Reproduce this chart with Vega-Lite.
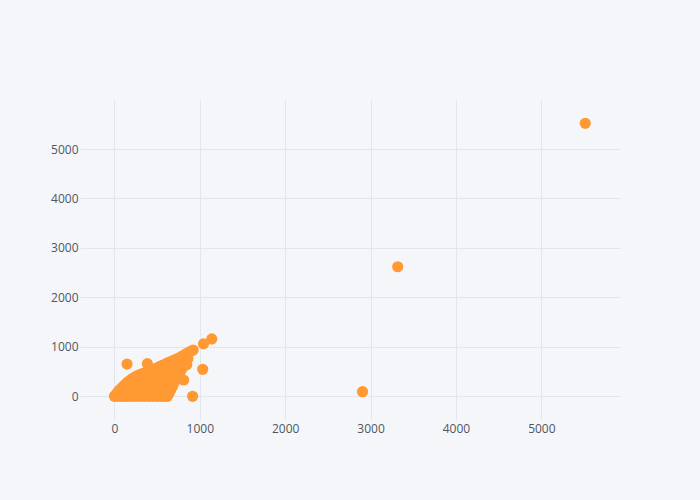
{
  "$schema": "https://vega.github.io/schema/vega-lite/v6.json",
  "autosize": {"type": "none"},
  "width": 540,
  "height": 320,
  "padding": {"left": 80, "top": 100, "right": 80, "bottom": 80},
  "background": "#F5F6F9",
  "config": {
    "view": {"stroke": null, "fill": "#F5F6F9"},
    "axis": {
      "domain": false,
      "ticks": false,
      "grid": true,
      "gridColor": "#E1E5ED",
      "gridWidth": 1,
      "labelFont": "Open Sans",
      "labelFontSize": 12,
      "labelColor": "#4D5663",
      "title": null
    }
  },
  "data": {
    "values": [
      {"x": 0, "y": 0}, {"x": 20, "y": 40}, {"x": 40, "y": 90}, {"x": 60, "y": 130}, {"x": 90, "y": 180},
      {"x": 120, "y": 230}, {"x": 150, "y": 280}, {"x": 180, "y": 320}, {"x": 210, "y": 360}, {"x": 240, "y": 390},
      {"x": 270, "y": 420}, {"x": 300, "y": 440}, {"x": 330, "y": 460}, {"x": 360, "y": 480}, {"x": 390, "y": 500},
      {"x": 420, "y": 520}, {"x": 450, "y": 540}, {"x": 480, "y": 560}, {"x": 510, "y": 585}, {"x": 540, "y": 610},
      {"x": 570, "y": 630}, {"x": 600, "y": 655}, {"x": 630, "y": 680}, {"x": 660, "y": 700}, {"x": 690, "y": 725},
      {"x": 720, "y": 745}, {"x": 750, "y": 770}, {"x": 780, "y": 800}, {"x": 810, "y": 830}, {"x": 840, "y": 860},
      {"x": 870, "y": 890}, {"x": 900, "y": 915}, {"x": 922, "y": 936},
      {"x": 30, "y": 0}, {"x": 70, "y": 0}, {"x": 110, "y": 0}, {"x": 150, "y": 0}, {"x": 200, "y": 0},
      {"x": 250, "y": 0}, {"x": 300, "y": 0}, {"x": 350, "y": 0}, {"x": 400, "y": 0}, {"x": 450, "y": 0},
      {"x": 500, "y": 0}, {"x": 540, "y": 0}, {"x": 580, "y": 0}, {"x": 620, "y": 0},
      {"x": 40, "y": 60}, {"x": 100, "y": 60}, {"x": 170, "y": 60}, {"x": 240, "y": 60}, {"x": 310, "y": 60},
      {"x": 380, "y": 60}, {"x": 450, "y": 60}, {"x": 520, "y": 60}, {"x": 590, "y": 60}, {"x": 640, "y": 60},
      {"x": 100, "y": 130}, {"x": 170, "y": 130}, {"x": 240, "y": 130}, {"x": 310, "y": 130}, {"x": 380, "y": 130},
      {"x": 450, "y": 130}, {"x": 520, "y": 130}, {"x": 600, "y": 130}, {"x": 660, "y": 130},
      {"x": 150, "y": 200}, {"x": 220, "y": 200}, {"x": 290, "y": 200}, {"x": 360, "y": 200}, {"x": 430, "y": 200},
      {"x": 500, "y": 200}, {"x": 570, "y": 200}, {"x": 630, "y": 200}, {"x": 680, "y": 200},
      {"x": 230, "y": 280}, {"x": 300, "y": 280}, {"x": 370, "y": 280}, {"x": 440, "y": 280}, {"x": 510, "y": 280},
      {"x": 580, "y": 280}, {"x": 650, "y": 280}, {"x": 700, "y": 280},
      {"x": 300, "y": 350}, {"x": 370, "y": 350}, {"x": 440, "y": 350}, {"x": 510, "y": 350}, {"x": 580, "y": 350},
      {"x": 650, "y": 350}, {"x": 720, "y": 350},
      {"x": 400, "y": 430}, {"x": 470, "y": 430}, {"x": 540, "y": 430}, {"x": 610, "y": 430}, {"x": 680, "y": 430},
      {"x": 750, "y": 430},
      {"x": 500, "y": 520}, {"x": 570, "y": 520}, {"x": 640, "y": 520}, {"x": 710, "y": 520}, {"x": 780, "y": 520},
      {"x": 580, "y": 600}, {"x": 650, "y": 600}, {"x": 720, "y": 600}, {"x": 810, "y": 600},
      {"x": 660, "y": 680}, {"x": 740, "y": 680}, {"x": 840, "y": 680},
      {"x": 740, "y": 760}, {"x": 800, "y": 760}, {"x": 860, "y": 760},
      {"x": 148, "y": 651}, {"x": 386, "y": 660}, {"x": 1034, "y": 546}, {"x": 916, "y": 0},
      {"x": 847, "y": 640}, {"x": 811, "y": 330}, {"x": 1043, "y": 1060}, {"x": 1140, "y": 1160},
      {"x": 2906, "y": 93}, {"x": 3318, "y": 2620}, {"x": 5514, "y": 5520}
    ]
  },
  "mark": {"type": "circle", "size": 125, "color": "#FF9933", "opacity": 1},
  "encoding": {
    "x": {"field": "x", "type": "quantitative",
      "scale": {"domain": [-403, 5921], "nice": false, "zero": false},
      "axis": {"values": [0, 1000, 2000, 3000, 4000, 5000], "labelPadding": 3, "format": "d"}},
    "y": {"field": "y", "type": "quantitative",
      "scale": {"domain": [-479, 5991], "nice": false, "zero": false},
      "axis": {"values": [0, 1000, 2000, 3000, 4000, 5000], "labelPadding": 2, "format": "d"}}
  }
}
